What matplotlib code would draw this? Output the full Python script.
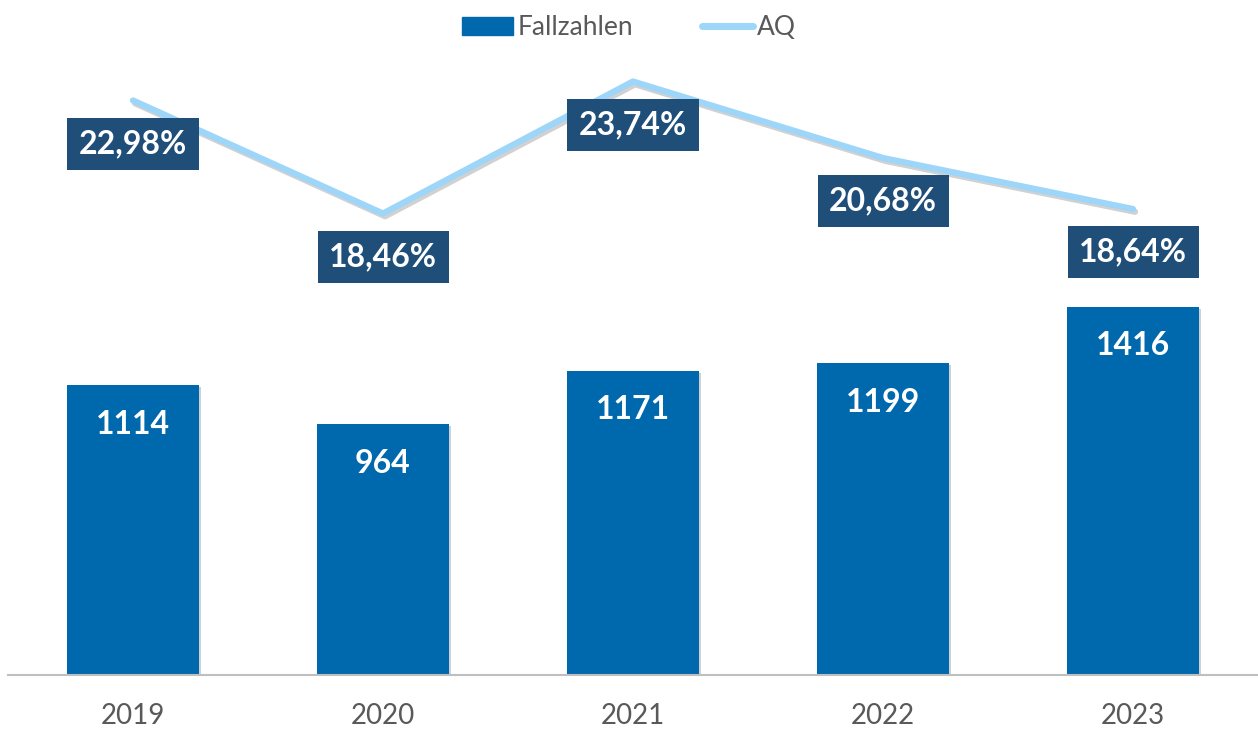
import numpy as np
import matplotlib
matplotlib.use("Agg")
import matplotlib.pyplot as plt
import matplotlib.patheffects as pe
from matplotlib.patches import Patch
from matplotlib.lines import Line2D

plt.rcParams['font.family'] = ['Lato', 'DejaVu Sans']

# Data
years = ["2019", "2020", "2021", "2022", "2023"]
fallzahlen = [1114, 964, 1171, 1199, 1416]
aq = [22.98, 18.46, 23.74, 20.68, 18.64]

bar_color = "#0068AD"
line_color = "#9DD6F8"
box_color = "#1F4E79"
text_gray = "#595959"

fig = plt.figure(figsize=(12.58, 7.31), dpi=100)
ax = fig.add_axes([8/1258, (731-675)/731, 1250/1258, 625/731])
x = np.arange(len(years))

ax.bar(x, fallzahlen, width=0.53, color=bar_color, zorder=2,
       path_effects=[pe.SimplePatchShadow(offset=(1.5, -1.5), alpha=0.2), pe.Normal()])
ax.set_xlim(-0.5, 4.5)
ax.set_ylim(0, 2404)
ax.set_yticks([])
for s in ["top", "right", "left"]:
    ax.spines[s].set_visible(False)
ax.spines["bottom"].set_color("#BFBFBF")
ax.spines["bottom"].set_linewidth(1.5)
ax.set_xticks(x)
ax.set_xticklabels(years, fontsize=20, color=text_gray)
ax.tick_params(axis="x", length=0, pad=20)

for xi, v in zip(x, fallzahlen):
    ax.annotate(str(v), (xi, v), xytext=(0, -28), textcoords="offset points",
                ha="center", va="center", color="white", fontsize=23,
                fontweight="bold")

ax2 = ax.twinx()
ax2.set_ylim(0, 25)
ax2.axis("off")
ax2.plot(x, aq, color=line_color, lw=4.5, solid_capstyle="round", zorder=3,
         path_effects=[pe.SimpleLineShadow(offset=(1.5, -2), alpha=0.18), pe.Normal()])

for xi, v in zip(x, aq):
    lbl = f"{v:.2f}%".replace(".", ",")
    ax2.annotate(lbl, (xi, v), xytext=(0, -31), textcoords="offset points",
                 ha="center", va="center", color="white", fontsize=23,
                 fontweight="bold", zorder=5,
                 bbox=dict(boxstyle="square,pad=0.36", fc=box_color, ec="none"))

handles = [Patch(color=bar_color, label="Fallzahlen"),
           Line2D([0], [0], color=line_color, lw=5, solid_capstyle="round", label="AQ")]
fig.legend(handles=handles, loc="upper center", bbox_to_anchor=(0.5, 1.012), ncol=2,
           frameon=False, fontsize=19, labelcolor=text_gray, handlelength=1.95,
           handletextpad=0.15, columnspacing=2.6)

fig.savefig("out.png", dpi=100)
